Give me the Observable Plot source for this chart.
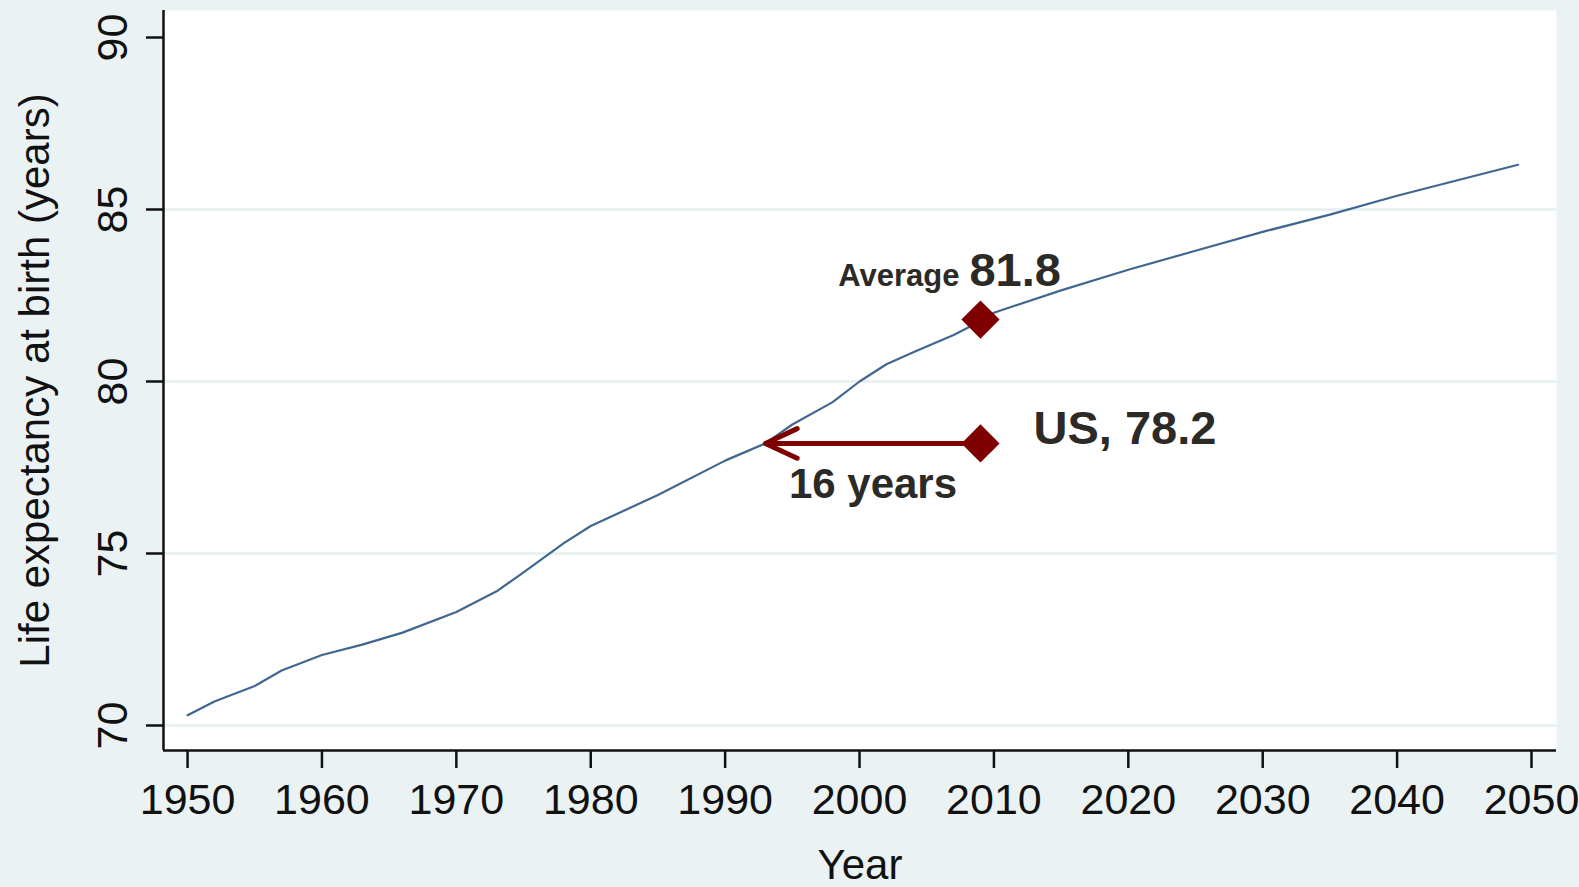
<!DOCTYPE html>
<html>
<head>
<meta charset="utf-8">
<script src="https://cdn.jsdelivr.net/npm/d3@7"></script>
<script src="https://cdn.jsdelivr.net/npm/@observablehq/plot@0.6"></script>
<style>
  html, body { margin: 0; padding: 0; background: #eaf2f3; overflow: hidden; }
  #chart svg { display: block; }
</style>
</head>
<body>
<div id="chart"></div>
<script>
// ---- data ----
const years = [1950,1952,1955,1957,1960,1963,1966,1970,1973,1975,1978,1980,1985,1990,1993,1995,1998,2000,2002,2004,2007,2009,2010,2015,2020,2025,2030,2035,2040,2045,2049];
const lifeExp = [70.3,70.7,71.15,71.6,72.05,72.35,72.7,73.3,73.9,74.45,75.3,75.8,76.7,77.7,78.2,78.75,79.4,80.0,80.5,80.85,81.35,81.75,82.0,82.65,83.25,83.8,84.35,84.85,85.4,85.9,86.3];
const xTicks = [1950,1960,1970,1980,1990,2000,2010,2020,2030,2040,2050];
const yTicks = [70,75,80,85,90];
const gridValues = [70,75,80,85];
const avgPoint = {year: 2009, value: 81.8};
const usPoint = {year: 2009, value: 78.2};
const matchYear = 1993; // year when average equalled US 2009 value
const gapLabel = "16 years";
const yLabel = "Life expectancy at birth (years)";
const xLabel = "Year";

const series = years.map((y, i) => ({year: y, value: lifeExp[i]}));
const xDomain = [1948.21, 2051.86];
const yDomain = [69.273, 90.785];

const font = "'Liberation Sans', Arial, Helvetica, sans-serif";
const red = "#7f0000";
const txt = "#2b2a26";

const chart = Plot.plot({
  width: 1579,
  height: 887,
  marginLeft: 163,
  marginRight: 23,
  marginTop: 10,
  marginBottom: 137,
  style: {background: "#eaf2f3", fontFamily: font, overflow: "visible"},
  x: {domain: xDomain, axis: null},
  y: {domain: yDomain, axis: null},
  marks: [
    Plot.frame({fill: "white", stroke: null}),
    Plot.ruleY(gridValues, {stroke: "#e6eff1", strokeWidth: 2.5}),
    // axis lines
    Plot.ruleX([xDomain[0]], {stroke: "#111", strokeWidth: 2.5}),
    Plot.ruleY([yDomain[0]], {stroke: "#111", strokeWidth: 2.5}),
    // ticks
    Plot.axisY({ticks: yTicks, tickSize: 17, tickFormat: () => "", stroke: "#111", strokeWidth: 2.5, label: null}),
    Plot.axisX({ticks: xTicks, tickSize: 18, tickFormat: () => "", stroke: "#111", strokeWidth: 2.5, label: null}),
    // tick labels
    Plot.text(yTicks, {y: d => d, text: d => String(d), frameAnchor: "left", dx: -50, rotate: -90,
      textAnchor: "middle", lineAnchor: "middle", fontSize: 43, fill: "#111"}),
    Plot.text(xTicks, {x: d => d, text: d => String(d), frameAnchor: "bottom", dy: 33,
      textAnchor: "middle", lineAnchor: "top", fontSize: 43, fill: "#111"}),
    // axis titles
    Plot.text([yLabel], {text: d => d, frameAnchor: "left", dx: -128, rotate: -90,
      textAnchor: "middle", lineAnchor: "middle", fontSize: 42, fill: "#111"}),
    Plot.text([xLabel], {text: d => d, frameAnchor: "bottom", dy: 128,
      textAnchor: "middle", lineAnchor: "bottom", fontSize: 42, fill: "#111"}),
    // series
    Plot.line(series, {x: "year", y: "value", stroke: "#41678f", strokeWidth: 2.2}),
    // arrow
    Plot.arrow([{x1: usPoint.year, x2: matchYear, y: usPoint.value}], {
      x1: "x1", x2: "x2", y1: "y", y2: "y", stroke: red, strokeWidth: 5,
      headLength: 10.5, headAngle: 50, insetStart: 18, strokeLinecap: "round"}),
    Plot.text([{x: (usPoint.year + matchYear) / 2, y: usPoint.value}], {
      x: "x", y: "y", text: () => gapLabel, dy: 55, textAnchor: "middle", lineAnchor: "bottom",
      fontSize: 42, fontWeight: "bold", fill: txt}),
    // diamonds
    Plot.dot([avgPoint, usPoint], {x: "year", y: "value", symbol: "diamond2", r: 17.2, fill: red, stroke: null}),
    // labels
    Plot.text([avgPoint], {x: "year", y: "value", text: () => "Average", dx: -21, dy: -34,
      textAnchor: "end", lineAnchor: "bottom", fontSize: 31, fontWeight: "bold", fill: txt}),
    Plot.text([avgPoint], {x: "year", y: "value", text: d => d.value.toFixed(1), dx: -11, dy: -34,
      textAnchor: "start", lineAnchor: "bottom", fontSize: 47, fontWeight: "bold", fill: txt}),
    Plot.text([usPoint], {x: "year", y: "value", text: d => "US, " + d.value.toFixed(1), dx: 53, dy: 1,
      textAnchor: "start", lineAnchor: "bottom", fontSize: 47, fontWeight: "bold", fill: txt})
  ]
});
document.getElementById("chart").appendChild(chart);
</script>
</body>
</html>
